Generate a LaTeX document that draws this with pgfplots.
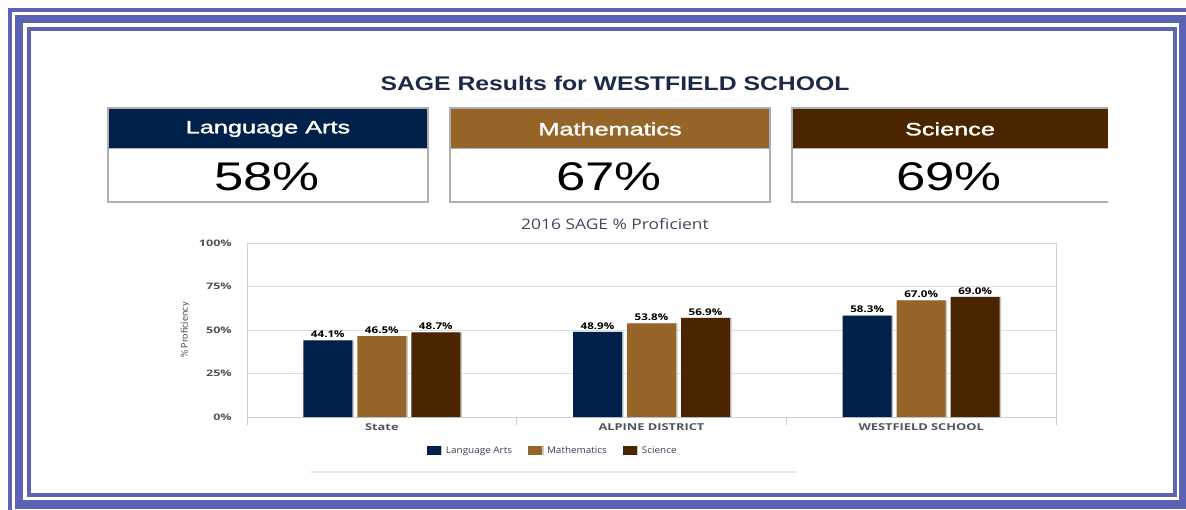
\documentclass[border=0pt]{standalone}
\usepackage{fontspec}
\usepackage{pgfplots}
\pgfplotsset{compat=1.18}
\newfontfamily\hv{Liberation Sans}
\newfontfamily\hvm[FakeBold=1.5]{Liberation Sans}
\newfontfamily\os{Open Sans}
\newfontfamily\cb{Carlito}
\definecolor{framecol}{RGB}{92,99,181}
\definecolor{navy}{RGB}{0,33,73}
\definecolor{bronze}{RGB}{149,101,41}
\definecolor{darkbr}{RGB}{74,37,0}
\definecolor{titlecol}{RGB}{28,42,72}
\definecolor{boxgray}{RGB}{175,175,175}
\definecolor{gridcol}{RGB}{216,222,232}
\definecolor{axiscol}{RGB}{200,208,222}
\definecolor{labcol}{RGB}{80,84,92}
\definecolor{ctitle}{RGB}{62,75,94}
\definecolor{legcol}{RGB}{55,65,82}
\newcommand{\sx}[1]{\scalebox{1.2}[1]{#1}}
\newcommand{\sxg}[1]{\scalebox{1.08}[1]{#1}}
\newcommand{\sxl}[1]{\scalebox{1.35}[1]{#1}}
\newcommand{\sxy}[1]{\scalebox{1.4}[1]{#1}}
\newcommand{\sxd}[1]{\scalebox{1.25}[1]{#1}}
\begin{document}
\begin{tikzpicture}
\useasboundingbox (0,0) rectangle (1186pt,-510pt);
\begin{scope}[x=1pt,y=-1pt]
\fill[white] (0,0) rectangle (1186,510);
\begin{scope}
\clip (0,0) rectangle (1186,510);
\draw[framecol,line width=4pt] (10,10) rectangle (1210,530);
\draw[framecol,line width=8.5pt] (19,19) rectangle (1183.5,504.5);
\draw[framecol,line width=4pt] (29,29) rectangle (1175,495);
\end{scope}
% main title
\node[font=\hv\bfseries\fontsize{19.8}{23}\selectfont, text=titlecol] at (615,83) {\scalebox{1.25}[1]{SAGE Results for WESTFIELD SCHOOL}};
% boxes
\fill[navy] (108,108) rectangle (428,149);
\draw[boxgray,line width=1.5pt] (108,108) rectangle (428,202);
\draw[boxgray,line width=1pt] (108,149) -- (428,149);
\fill[bronze] (450,108) rectangle (770,149);
\draw[boxgray,line width=1.5pt] (450,108) rectangle (770,202);
\draw[boxgray,line width=1pt] (450,149) -- (770,149);
\fill[darkbr] (792,108) rectangle (1108,149);
\draw[boxgray,line width=1.5pt] (1108,108) -- (792,108) -- (792,202) -- (1108,202);
\draw[boxgray,line width=1pt] (792,149) -- (1108,149);
\node[text=white, font=\hvm\fontsize{17.8}{20}\selectfont] at (268,129) {\scalebox{1.42}[1]{Language Arts}};
\node[text=white, font=\hvm\fontsize{17.8}{20}\selectfont] at (610,129) {\scalebox{1.42}[1]{Mathematics}};
\node[text=white, font=\hvm\fontsize{17.8}{20}\selectfont] at (950,129) {\scalebox{1.42}[1]{Science}};
\node[text=black, font=\hv\fontsize{40}{44}\selectfont] at (267,177) {\scalebox{1.32}[1]{58\%}};
\node[text=black, font=\hv\fontsize{40}{44}\selectfont] at (609,177) {\scalebox{1.32}[1]{67\%}};
\node[text=black, font=\hv\fontsize{40}{44}\selectfont] at (949,177) {\scalebox{1.32}[1]{69\%}};
% chart title
\node[text=ctitle, font=\os\fontsize{14.5}{17}\selectfont] at (615,224) {\sx{2016 SAGE \% Proficient}};
% line under legend
\draw[black!10,line width=1.5pt] (311,472) -- (796,472);
\end{scope}
\begin{axis}[
  at={(247pt,-417pt)}, anchor=south west,
  scale only axis, width=809pt, height=174pt,
  xmin=0, xmax=3, ymin=0, ymax=100,
  ybar=5pt, bar width=49pt,
  axis line style={draw=axiscol, line width=0.8pt},
  ytick={0,25,50,75,100},
  yticklabels={\sxy{0\%},\sxy{25\%},\sxy{50\%},\sxy{75\%},\sxy{100\%}},
  yticklabel style={font=\os\bfseries\fontsize{9}{10}\selectfont, text=labcol, inner sep=2pt, xshift=-13pt},
  ymajorgrids, grid style={draw=gridcol, line width=0.8pt},
  xtick={0.5,1.5,2.5},
  xticklabels={\sxl{State},\sxl{ALPINE DISTRICT},\sxl{WESTFIELD SCHOOL}},
  xticklabel style={font=\os\bfseries\fontsize{9.5}{10}\selectfont, text=labcol, inner sep=2pt, yshift=-4pt},
  major tick length=0pt,
  tick pos=left,
  extra x ticks={0,1,2,3}, extra x tick labels={},
  extra x tick style={major tick length=8pt, tick align=outside, tick style={draw=axiscol, line width=0.8pt}, grid=none},
  ylabel={\% Proficiency},
  ylabel style={font=\cb\fontsize{10.3}{12}\selectfont, text=labcol, at={(axis description cs:-0.0766,0.5)}, rotate=0, anchor=center},
  /pgf/number format/assume math mode=true,
  nodes near coords={\sxd{\pgfmathprintnumber[fixed,fixed zerofill,precision=1]{\pgfplotspointmeta}\%}},
  nodes near coords style={font=\os\bfseries\fontsize{9.3}{10}\selectfont, text=black, inner sep=2.5pt},
  every axis plot/.append style={preaction={fill=black!22, transform canvas={xshift=1.5pt}}},
  legend columns=3,
  legend style={at={(0.378,-0.195)}, anchor=center, draw=none, fill=none,
    font=\os\fontsize{9.2}{10}\selectfont, text=legcol,
    /tikz/every odd column/.append style={column sep=3pt},
    /tikz/every even column/.append style={column sep=14pt}},
  legend image code/.code={\fill[#1,preaction={fill=none}] (0pt,-4.5pt) rectangle (14pt,4.5pt);},
]
\addplot[fill=navy, draw=none] coordinates {(0.5,44.1) (1.5,48.9) (2.5,58.3)};
\addplot[fill=bronze, draw=none] coordinates {(0.5,46.5) (1.5,53.8) (2.5,67.0)};
\addplot[fill=darkbr, draw=none] coordinates {(0.5,48.7) (1.5,56.9) (2.5,69.0)};
\legend{\sxg{Language Arts},\sxg{Mathematics},\sxg{Science}}
\end{axis}
\end{tikzpicture}
\end{document}
